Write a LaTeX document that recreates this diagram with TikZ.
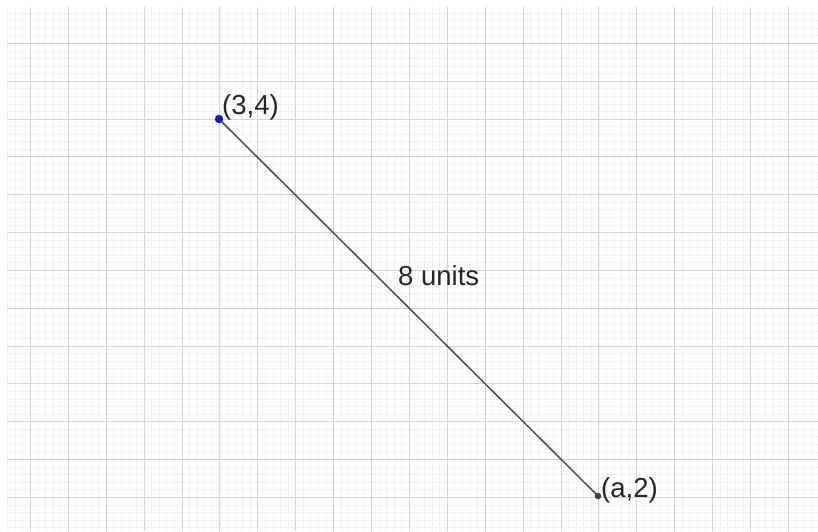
\documentclass[tikz,border=0pt]{standalone}
\usepackage{fontspec}
\setmainfont{Liberation Sans}
\begin{document}
\begin{tikzpicture}[x=1pt,y=-1pt,
  minorline/.style={draw=black!5,line width=1pt},
  majorline/.style={draw=black!17,line width=1.5pt},
  seg/.style={draw=black!70,line width=1.5pt},
  lbl/.style={inner sep=0pt,anchor=base west,font=\fontsize{27.5}{30}\selectfont,text=black!85}]
\useasboundingbox (0,0) rectangle (818,531);
\fill[white] (0,0) rectangle (818,531);
\begin{scope}
  \clip (7,7) rectangle (818,531);
  \foreach \i in {-3,...,104} \draw[minorline] ({round(30+\i*7.58)+0.5},7) -- ({round(30+\i*7.58)+0.5},531);
  \foreach \i in {-5,...,65} \draw[minorline] (7,{round(43+\i*7.566)+0.5}) -- (818,{round(43+\i*7.566)+0.5});
  \foreach \k in {0,...,21} \draw[majorline] ({round(30+\k*37.9)+0.5},7) -- ({round(30+\k*37.9)+0.5},531);
  \foreach \k in {-1,...,13} \draw[majorline] (7,{round(43+\k*37.83)+0.5}) -- (818,{round(43+\k*37.83)+0.5});
\end{scope}
\coordinate (P) at (219,119);
\coordinate (Q) at (598,496);
\draw[seg] (P) -- (Q);
\fill[blue!70!black!90] (P) circle (4.2pt);
\fill[black!75] (Q) circle (3.3pt);
\node[lbl] (lp) at (222,114) {(3,4)};
\node[lbl] (lm) at (398,285) {8 units};
\node[lbl] (lq) at (601,497) {(a,2)};
\end{tikzpicture}
\end{document}
